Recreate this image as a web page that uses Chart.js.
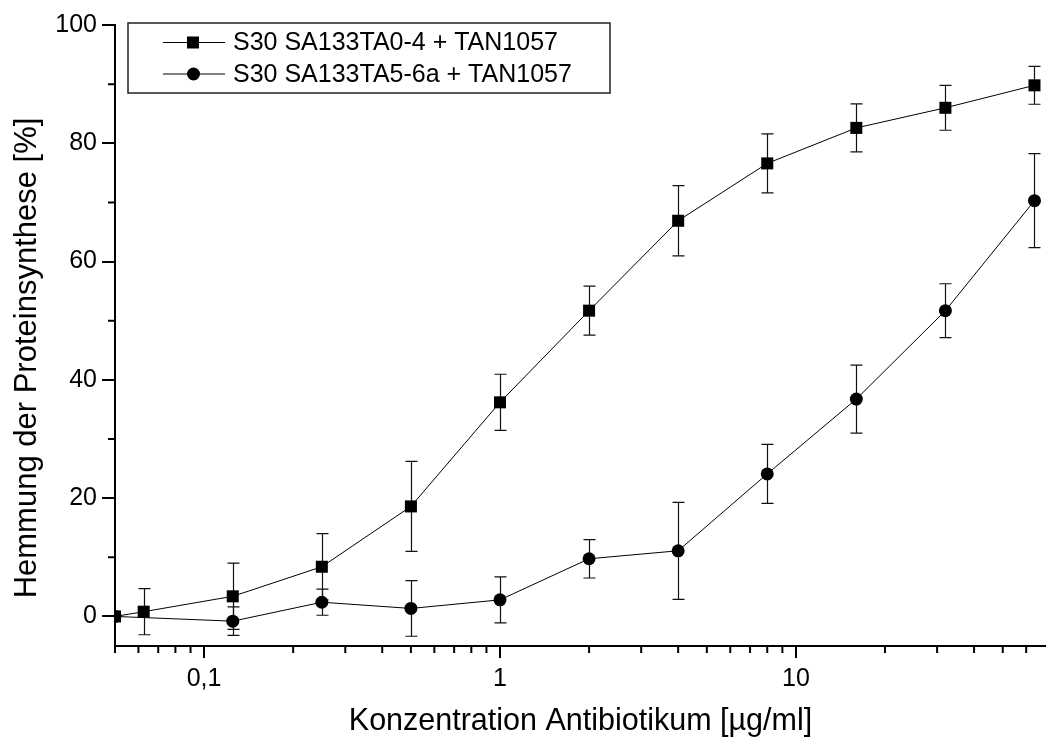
<!DOCTYPE html>
<html>
<head>
<meta charset="utf-8">
<script src="https://cdn.jsdelivr.net/npm/chart.js@4.4.1/dist/chart.umd.min.js"></script>
<style>
  html, body { margin: 0; padding: 0; background: #fff; }
</style>
</head>
<body>
<canvas id="myChart" width="1046" height="740"></canvas>
<script>
// concentrations in µg/ml
const concA = [0.05, 0.0625, 0.125, 0.25, 0.5, 1, 2, 4, 8, 16, 32, 64];
const inhibA = [0, 0.8, 3.4, 8.4, 18.6, 36.2, 51.7, 66.9, 76.6, 82.6, 86.0, 89.8];
const errA = [0, 3.9, 5.6, 5.6, 7.6, 4.75, 4.15, 5.95, 5.0, 4.05, 3.8, 3.2];

const concB = [0.05, 0.125, 0.25, 0.5, 1, 2, 4, 8, 16, 32, 64];
const inhibB = [0, -0.8, 2.4, 1.35, 2.8, 9.75, 11.1, 24.1, 36.75, 51.7, 70.3];
const errB = [0, 2.4, 2.2, 4.7, 3.9, 3.25, 8.2, 5.0, 5.75, 4.55, 7.95];

const seriesNames = ['S30 SA133TA0-4 + TAN1057', 'S30 SA133TA5-6a + TAN1057'];
const yTitle = 'Hemmung der Proteinsynthese [%]';
const xTitle = 'Konzentration Antibiotikum [µg/ml]';

const xMajor = [0.1, 1, 10];
const xLabels = ['0,1', '1', '10'];
const xMinor = [0.05, 0.06, 0.07, 0.08, 0.09, 0.2, 0.3, 0.4, 0.5, 0.6, 0.7, 0.8, 0.9,
                2, 3, 4, 5, 6, 7, 8, 9, 20, 30, 40, 50, 60];
const yMajor = [0, 20, 40, 60, 80, 100];
const yMinor = [10, 30, 50, 70, 90];

const FONT = 'Liberation Sans, Arial, sans-serif';
const errorSets = [errA, errB];

const extras = {
    id: 'extras',
    beforeDatasetsDraw(chart) {
        const ctx = chart.ctx;
        const xs = chart.scales.x, ys = chart.scales.y;
        ctx.save();
        ctx.strokeStyle = '#111';
        ctx.lineWidth = 1.2;
        chart.data.datasets.forEach((ds, i) => {
            const errs = errorSets[i];
            ds.data.forEach((p, j) => {
                if (!errs[j]) return;
                const px = Math.round(xs.getPixelForValue(p.x)) + 0.5;
                const top = ys.getPixelForValue(p.y + errs[j]);
                const bot = ys.getPixelForValue(p.y - errs[j]);
                ctx.beginPath();
                ctx.moveTo(px, top); ctx.lineTo(px, bot);
                ctx.moveTo(px - 6, top); ctx.lineTo(px + 6, top);
                ctx.moveTo(px - 6, bot); ctx.lineTo(px + 6, bot);
                ctx.stroke();
            });
        });
        ctx.restore();
    },
    afterDraw(chart) {
        const ctx = chart.ctx;
        const area = chart.chartArea;
        const xs = chart.scales.x, ys = chart.scales.y;
        ctx.save();
        // minor ticks
        ctx.strokeStyle = '#000';
        ctx.lineWidth = 2;
        ctx.beginPath();
        xMinor.forEach(v => {
            const px = xs.getPixelForValue(v);
            ctx.moveTo(px, area.bottom); ctx.lineTo(px, area.bottom + 7);
        });
        yMinor.forEach(v => {
            const py = ys.getPixelForValue(v);
            ctx.moveTo(area.left - 7, py); ctx.lineTo(area.left, py);
        });
        ctx.stroke();

        // y axis title (sits a little below the axis centre in the original)
        ctx.fillStyle = '#000';
        ctx.font = '31px ' + FONT;
        ctx.textAlign = 'center';
        ctx.textBaseline = 'middle';
        ctx.save();
        ctx.translate(27, 358);
        ctx.rotate(-Math.PI / 2);
        ctx.fillText(yTitle, 0, 0);
        ctx.restore();

        // legend box
        ctx.fillStyle = '#fff';
        ctx.fillRect(128, 23, 482, 70);
        ctx.strokeStyle = '#222';
        ctx.lineWidth = 1.5;
        ctx.strokeRect(128, 23, 482, 70);
        const rows = [42.5, 74];
        chart.data.datasets.forEach((ds, i) => {
            const y = rows[i];
            ctx.strokeStyle = '#000';
            ctx.lineWidth = 1;
            ctx.beginPath();
            ctx.moveTo(163, y); ctx.lineTo(225, y);
            ctx.stroke();
            ctx.fillStyle = '#000';
            if (ds.pointStyle === 'rect') {
                ctx.fillRect(187, y - 6, 12, 12);
            } else {
                ctx.beginPath();
                ctx.arc(193.5, y, 6.5, 0, Math.PI * 2);
                ctx.fill();
            }
            ctx.font = '25px ' + FONT;
            ctx.textBaseline = 'middle';
            ctx.textAlign = 'left';
            ctx.fillText(ds.label, 233, y + 1);
        });
        ctx.restore();
    }
};

const ctx = document.getElementById('myChart').getContext('2d');
const chart = new Chart(ctx, {
    type: 'line',
    data: {
        datasets: [{
            label: seriesNames[0],
            data: concA.map((c, i) => ({x: c, y: inhibA[i]})),
            borderColor: '#000',
            backgroundColor: '#000',
            borderWidth: 1,
            pointStyle: 'rect',
            pointRadius: 8.5,
            pointBorderWidth: 0,
            clip: 0
        }, {
            label: seriesNames[1],
            data: concB.map((c, i) => ({x: c, y: inhibB[i]})),
            borderColor: '#000',
            backgroundColor: '#000',
            borderWidth: 1,
            pointStyle: 'circle',
            pointRadius: 6.5,
            pointBorderWidth: 0,
            clip: 0
        }]
    },
    options: {
        responsive: false,
        animation: false,
        layout: {
            autoPadding: false,
            padding: { top: 25, right: 0, left: 0, bottom: 0 }
        },
        plugins: {
            legend: { display: false },
            tooltip: { enabled: false }
        },
        scales: {
            x: {
                type: 'logarithmic',
                min: 0.05,
                max: 70,
                afterBuildTicks: scale => {
                    scale.ticks = xMajor.concat(xMinor).sort((a, b) => a - b).map(v => ({value: v}));
                },
                afterFit: scale => {
                    scale.height = 94;
                    scale.paddingLeft = 0;
                    scale.paddingRight = 0;
                },
                ticks: {
                    autoSkip: false,
                    maxRotation: 0,
                    padding: 6,
                    color: '#000',
                    font: { family: FONT, size: 25 },
                    callback: v => {
                        const k = xMajor.indexOf(v);
                        return k >= 0 ? xLabels[k] : '';
                    }
                },
                grid: {
                    drawOnChartArea: false,
                    tickLength: 12,
                    lineWidth: 2,
                    color: c => (c.tick && xMajor.includes(c.tick.value)) ? '#000' : 'rgba(0,0,0,0)'
                },
                border: { color: '#000', width: 2 },
                title: {
                    display: true,
                    text: xTitle,
                    color: '#000',
                    font: { family: FONT, size: 30.5 },
                    padding: { top: 0, bottom: 0 }
                }
            },
            y: {
                type: 'linear',
                min: -5,
                max: 100,
                afterBuildTicks: scale => {
                    scale.ticks = yMajor.concat(yMinor).sort((a, b) => a - b).map(v => ({value: v}));
                },
                afterFit: scale => { scale.width = 115; },
                ticks: {
                    autoSkip: false,
                    padding: 5,
                    color: '#000',
                    font: { family: FONT, size: 25 },
                    callback: v => yMajor.includes(v) ? String(v) : ''
                },
                grid: {
                    drawOnChartArea: false,
                    tickLength: 13,
                    lineWidth: 2,
                    color: c => (c.tick && yMajor.includes(c.tick.value)) ? '#000' : 'rgba(0,0,0,0)'
                },
                border: { color: '#000', width: 2 }
            }
        }
    },
    plugins: [extras]
});
</script>
</body>
</html>
